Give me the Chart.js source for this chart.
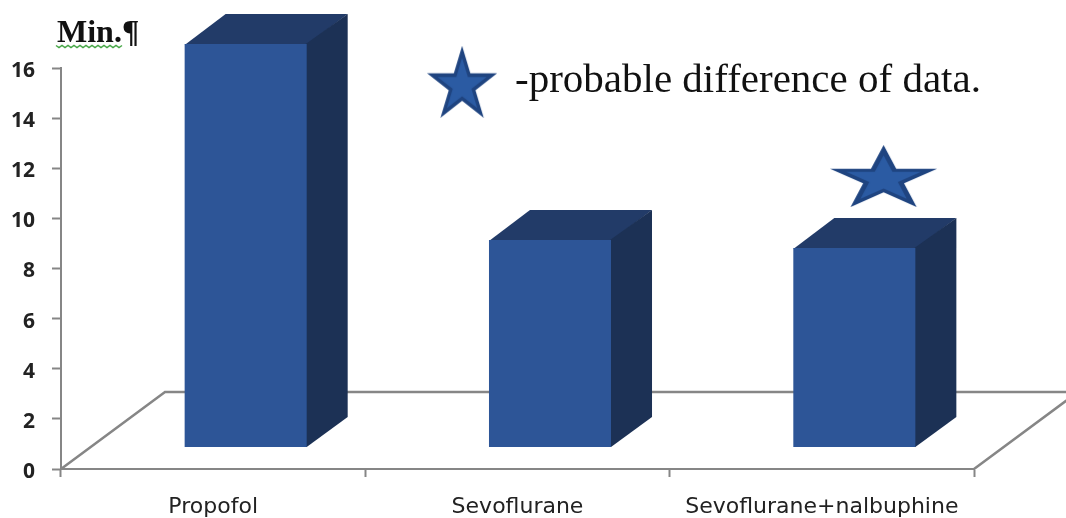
<!DOCTYPE html>
<html>
<head>
<meta charset="utf-8">
<style>
  html, body { margin: 0; padding: 0; background: #fff; }
  #wrap { width: 1066px; height: 518px; }
</style>
<script src="https://cdn.jsdelivr.net/npm/chart.js@4"></script>
</head>
<body>
<div id="wrap"><canvas id="myChart" width="1066" height="518"></canvas></div>
<script>
// chart values
const categories = ['Propofol', 'Sevoflurane', 'Sevoflurane+nalbuphine'];
const barTops = [16.96, 9.14, 8.82];
const floorLevel = 0.88;
const starX = [1.318, 2.703];
const starY = [15.45, 11.69];
const legendText = '-probable difference of data.';
const unitText = 'Min.¶';

// box look
const FRONT = '#2d5597', TOP = '#223b68', SIDE = '#1c3155', AXIS = '#868686';
const BAR_SHIFT = 32.5;            // front face sits right of the category centre
const DEPTH_X = 41, DEPTH_Y = 30;  // box depth
const FLOOR_X = 104, FLOOR_Y = 77; // floor depth

function starSprite(w, h) {
    const c = document.createElement('canvas');
    c.width = w;
    c.height = h;
    const g = c.getContext('2d');
    const poly = (scale, color) => {
        g.beginPath();
        for (let i = 0; i < 10; i++) {
            const r = (i % 2 ? 0.382 : 1) * scale;
            const a = -Math.PI / 2 + i * Math.PI / 5;
            const px = w / 2 + r * Math.cos(a) * (w / 2) / 0.951;
            const py = h * (1 / 1.809) + r * Math.sin(a) * h / 1.809;
            i ? g.lineTo(px, py) : g.moveTo(px, py);
        }
        g.closePath();
        g.fillStyle = color;
        g.fill();
    };
    poly(1, '#1f4480');
    poly(0.7, '#2b5ba3');
    return c;
}

const box3d = {
    id: 'box3d',
    beforeDatasetsDraw(chart) {
        // floor of the plot
        const ctx = chart.ctx, a = chart.chartArea;
        ctx.save();
        ctx.strokeStyle = AXIS;
        ctx.lineWidth = 2.5;
        ctx.beginPath();
        ctx.moveTo(a.left, a.bottom);
        ctx.lineTo(a.left + FLOOR_X, a.bottom - FLOOR_Y);
        ctx.lineTo(a.right + FLOOR_X, a.bottom - FLOOR_Y);
        ctx.lineTo(a.right, a.bottom);
        ctx.stroke();
        ctx.restore();
    },
    beforeDatasetDraw(chart, args) {
        if (args.meta.type !== 'bar') return;
        const ctx = chart.ctx;
        ctx.save();
        args.meta.data.forEach(el => {
            const l = el.x - el.width / 2 + BAR_SHIFT;
            const r = el.x + el.width / 2 + BAR_SHIFT;
            ctx.fillStyle = TOP;
            ctx.beginPath();
            ctx.moveTo(l, el.y + 1);
            ctx.lineTo(l + DEPTH_X, el.y - DEPTH_Y);
            ctx.lineTo(r + DEPTH_X, el.y - DEPTH_Y);
            ctx.lineTo(r, el.y + 1);
            ctx.fill();
            // side runs a pixel under the front so no seam shows
            ctx.fillStyle = SIDE;
            ctx.beginPath();
            ctx.moveTo(r - 1, el.y);
            ctx.lineTo(r + DEPTH_X, el.y - DEPTH_Y);
            ctx.lineTo(r + DEPTH_X, el.base - DEPTH_Y);
            ctx.lineTo(r, el.base);
            ctx.lineTo(r - 1, el.base);
            ctx.fill();
        });
        ctx.restore();
        ctx.save();
        ctx.translate(BAR_SHIFT, 0);
    },
    afterDatasetDraw(chart, args) {
        if (args.meta.type === 'bar') chart.ctx.restore();
    },
    afterDraw(chart) {
        const ctx = chart.ctx;
        ctx.save();
        ctx.textBaseline = 'alphabetic';
        ctx.fillStyle = '#111';
        ctx.font = '41px "Liberation Serif"';
        ctx.fillText(legendText, 515, 92);

        ctx.font = 'bold 32px "Liberation Serif"';
        ctx.fillText(unitText, 57, 42);

        // spell-check underline under the unit
        ctx.strokeStyle = '#4aa84a';
        ctx.lineWidth = 1.5;
        ctx.beginPath();
        for (let x = 56, i = 0; x <= 122; x += 3, i++) {
            const y = 46 + (i % 2 ? 1.5 : -0.5);
            i ? ctx.lineTo(x, y) : ctx.moveTo(x, y);
        }
        ctx.stroke();
        ctx.restore();
    }
};

myChart = new Chart(document.getElementById('myChart'), {
    data: {
        labels: categories,
        datasets: [
            {
                type: 'scatter',
                xAxisID: 'xStar',
                data: starX.map((x, i) => ({ x: x, y: starY[i] })),
                pointStyle: [starSprite(70, 72), starSprite(107, 62)],
                pointRadius: 30,
                clip: false,
                order: 0
            },
            {
                type: 'bar',
                data: barTops.map(v => [floorLevel, v]),
                backgroundColor: FRONT,
                borderWidth: 0,
                grouped: false,
                categoryPercentage: 1,
                barPercentage: 0.401,
                clip: false,
                order: 1
            }
        ]
    },
    plugins: [box3d],
    options: {
        responsive: false,
        animation: false,
        layout: { padding: { top: 68, right: 92, left: 0, bottom: 0 } },
        plugins: { legend: { display: false }, tooltip: { enabled: false } },
        scales: {
            x: {
                type: 'category',
                offset: true,
                afterFit: s => { s.height = 49; },
                border: { color: AXIS, width: 2 },
                grid: { offset: true, drawOnChartArea: false, color: AXIS, tickLength: 8, tickWidth: 2 },
                ticks: { color: '#222', padding: 17, maxRotation: 0, font: { family: '"DejaVu Sans"', size: 22 } }
            },
            xStar: { type: 'linear', display: false, min: 0, max: 3 },
            y: {
                min: 0,
                max: 16,
                afterFit: s => { s.width = 61; },
                border: { color: AXIS, width: 2 },
                grid: { drawOnChartArea: false, color: AXIS, tickLength: 9, tickWidth: 2 },
                ticks: { stepSize: 2, color: '#222', padding: 17, labelOffset: 3, font: { family: '"Open Sans"', size: 21, weight: '700' } }
            }
        }
    }
});
</script>
</body>
</html>
